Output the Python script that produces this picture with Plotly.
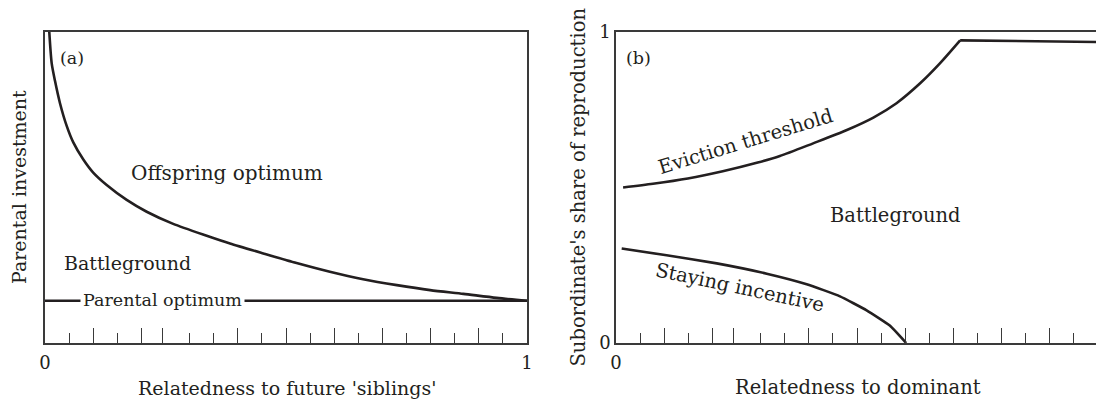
import plotly.graph_objects as go

# ---------------- data ----------------
# Panel (a)
offspring_x = [0.0089, 0.0139, 0.0207, 0.0311, 0.045, 0.0587, 0.0795, 0.100, 0.128, 0.1695, 0.211, 0.266,
               0.3355, 0.3838, 0.453, 0.522, 0.591, 0.660, 0.730, 0.799, 0.868, 0.937, 1.0]
offspring_y = [1.0, 0.899, 0.843, 0.771, 0.698, 0.645, 0.590, 0.548, 0.508, 0.460, 0.422, 0.383,
               0.345, 0.320, 0.288, 0.257, 0.229, 0.205, 0.186, 0.170, 0.158, 0.145, 0.136]
parental_x = [0.0, 1.0]
parental_y = [0.136, 0.136]

# Panel (b)
eviction_x = [0.0147, 0.0766, 0.149, 0.2215, 0.294, 0.340, 0.409, 0.479, 0.534, 0.582, 0.631, 0.672, 0.714, 1.0]
eviction_y = [0.500, 0.512, 0.529, 0.552, 0.580, 0.601, 0.642, 0.685, 0.725, 0.771, 0.835, 0.899, 0.973, 0.968]
staying_x = [0.0118, 0.105, 0.209, 0.3127, 0.3956, 0.4647, 0.520, 0.568, 0.602]
staying_y = [0.304, 0.282, 0.256, 0.223, 0.189, 0.150, 0.105, 0.056, 0.0]

# Tick marks (hand-drawn axis: long and short ticks)
long_ticks = [0.0, 0.1, 0.2, 0.243, 0.4, 0.5, 0.6, 0.7, 0.8, 0.9, 1.0]
long_labels = ["0", "", "", "", "", "", "", "", "", "", "1"]
short_ticks = [0.05, 0.15, 0.3, 0.35, 0.45, 0.55, 0.65, 0.75, 0.85, 0.95]
y_ticks_b = [0, 1]
y_labels_b = ["0", "1"]

# ---------------- figure ----------------
W, H = 1096, 401
FONT = "DejaVu Serif"
INK = "#231f20"
AX = "#3a3a3a"
corner = 12  # index where the eviction threshold reaches its plateau

fig = go.Figure()
fig.add_trace(go.Scatter(x=offspring_x, y=offspring_y, mode="lines", xaxis="x", yaxis="y",
                         line=dict(color=INK, width=2.6, shape="spline", smoothing=0.7),
                         hoverinfo="skip", showlegend=False))
fig.add_trace(go.Scatter(x=parental_x, y=parental_y, mode="lines", xaxis="x", yaxis="y",
                         line=dict(color=INK, width=2.6), hoverinfo="skip", showlegend=False))
fig.add_trace(go.Scatter(x=eviction_x[:corner + 1], y=eviction_y[:corner + 1], mode="lines",
                         xaxis="x2", yaxis="y2",
                         line=dict(color=INK, width=2.6, shape="spline", smoothing=0.7),
                         hoverinfo="skip", showlegend=False))
fig.add_trace(go.Scatter(x=eviction_x[corner:], y=eviction_y[corner:], mode="lines",
                         xaxis="x2", yaxis="y2", line=dict(color=INK, width=2.6),
                         hoverinfo="skip", showlegend=False))
fig.add_trace(go.Scatter(x=staying_x, y=staying_y, mode="lines", xaxis="x2", yaxis="y2",
                         line=dict(color=INK, width=2.6, shape="spline", smoothing=0.4),
                         hoverinfo="skip", showlegend=False))

px_a0, px_a1 = 45, 527
px_b0 = 616
py_top, py_bot = 32, 343
ydom = [1 - py_bot / H, 1 - py_top / H]
unit_b = px_a1 - px_a0

def xax(domain, rng):
    return dict(domain=domain, range=rng, showline=True, linecolor=AX, linewidth=1.5, mirror=True,
                showgrid=False, zeroline=False, tickmode="array", tickvals=long_ticks, ticktext=long_labels,
                ticks="inside", ticklen=15, tickwidth=1.3, tickcolor=AX, ticklabelstandoff=3,
                tickfont=dict(family=FONT, size=18, color=INK),
                minor=dict(tickmode="array", tickvals=short_ticks, ticks="inside", ticklen=10,
                           tickwidth=1.3, tickcolor=AX, showgrid=False),
                automargin=False, fixedrange=True)

fig.update_layout(
    width=W, height=H, autosize=False, margin=dict(l=0, r=0, t=0, b=0, pad=0),
    paper_bgcolor="white", plot_bgcolor="white",
    font=dict(family=FONT, color=INK, size=18),
    xaxis=xax([px_a0 / W, px_a1 / W], [0, 1]),
    yaxis=dict(domain=ydom, range=[0, 1], showline=True, linecolor=AX, linewidth=1.5, mirror=True,
               showgrid=False, zeroline=False, showticklabels=False, ticks="", automargin=False,
               fixedrange=True),
    xaxis2=xax([px_b0 / W, 1.0], [0, (W - px_b0) / unit_b]),
    yaxis2=dict(domain=ydom, range=[0, 1], anchor="x2", showline=True, linecolor=AX, linewidth=1.5,
                mirror=False, showgrid=False, zeroline=False, tickmode="array", tickvals=y_ticks_b,
                ticktext=y_labels_b, ticks="", tickfont=dict(family=FONT, size=18, color=INK),
                automargin=False, fixedrange=True),
)
fig.layout.xaxis2.anchor = "y2"

def ann(text, x, y, xref, yref, size=19.5, angle=0, yanchor="middle", **kw):
    fig.add_annotation(text=text, x=x, y=y, xref=xref, yref=yref, showarrow=False,
                       textangle=angle, font=dict(family=FONT, size=size, color=INK),
                       xanchor="center", yanchor=yanchor, **kw)

# Panel (a) labels
ann("(a)", 0.056, 0.916, "x", "y", size=17.5)
ann("Offspring optimum", 0.378, 0.547, "x", "y", size=20)
ann("Battleground", 0.172, 0.257, "x", "y", size=19)
ann("Parental optimum", 0.243, 0.138, "x", "y", size=17.5, bgcolor="white", borderpad=2)

# Panel (b) labels
ann("(b)", 0.046, 0.916, "x2", "y2", size=17.5)
ann("Battleground", 0.58, 0.411, "x2", "y2")
ann("Eviction threshold", 0.269, 0.647, "x2", "y2", angle=-17)
ann("Staying incentive", 0.258, 0.18, "x2", "y2", angle=12)

# Axis titles
ann("Parental investment", 19 / W, 1 - 187 / H, "paper", "paper", size=19, angle=-90)
ann("Relatedness to future 'siblings'", 287 / W, 0.0, "paper", "paper", size=19, yanchor="bottom")
ann("Subordinate's share of reproduction", 578 / W, 1 - 187.5 / H, "paper", "paper", angle=-90)
ann("Relatedness to dominant", 858 / W, 0.0, "paper", "paper", yanchor="bottom")

fig.write_html("out.html", config={"displayModeBar": False},
               post_script="document.body.style.margin='0';document.body.style.overflow='hidden';")
